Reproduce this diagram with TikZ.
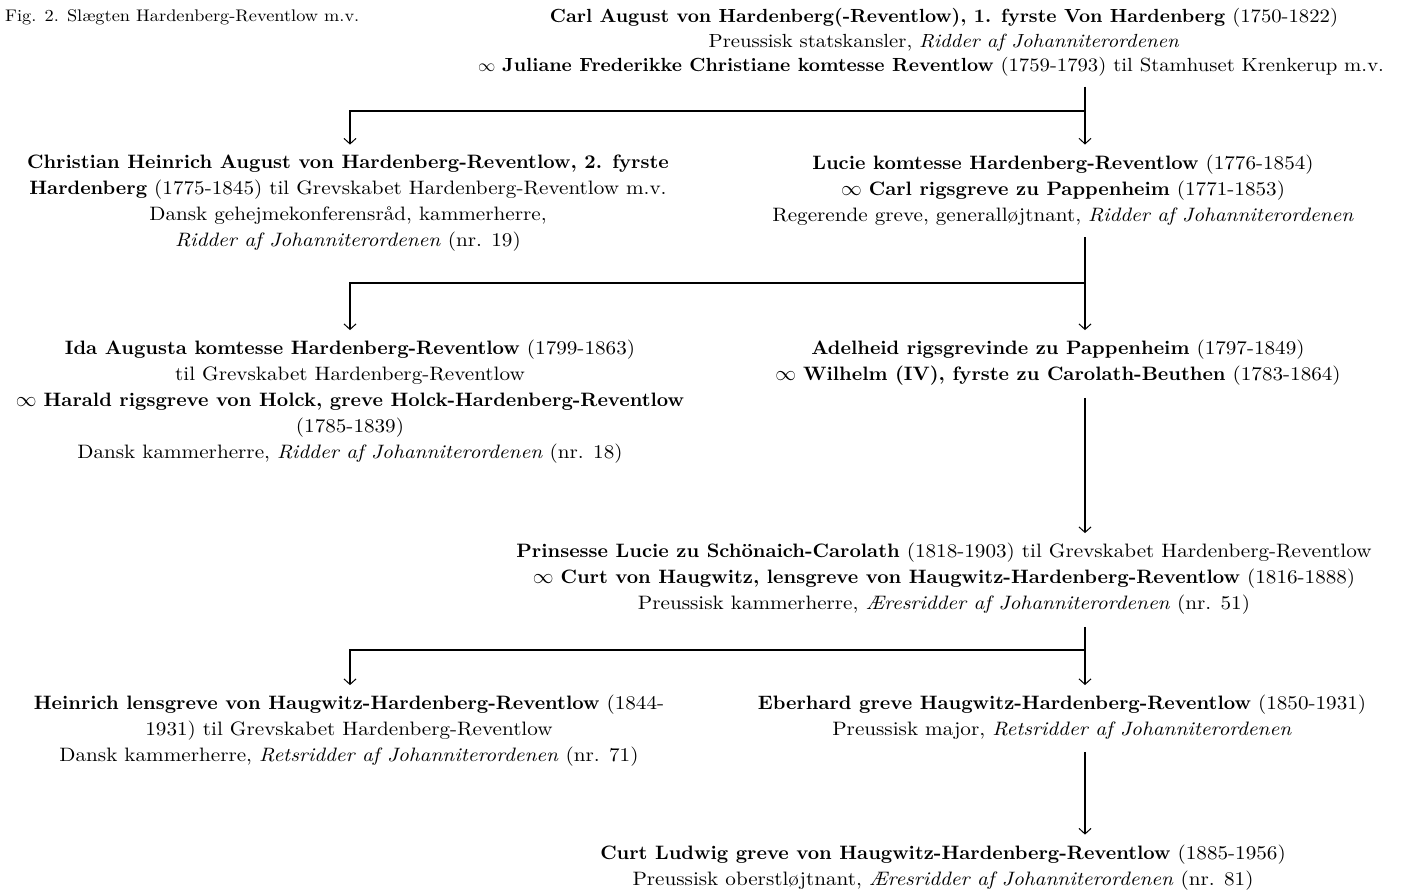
\documentclass[tikz,border=0pt]{standalone}
\usepackage{fontspec}
\setmainfont{lmroman10}[Extension=.otf, UprightFont=*-regular, BoldFont=*-bold, ItalicFont=*-italic, BoldItalicFont=*-bolditalic,
  UprightFeatures={FakeStretch=1.09}, ItalicFeatures={FakeStretch=1.09}, BoldFeatures={FakeStretch=1.02}]
\usetikzlibrary{arrows.meta}
\newcommand\bodyfont{\fontsize{19.4}{26}\selectfont}
\newcommand\topfont{\fontsize{19.0}{24.5}\selectfont}
\newcommand\capfont{\fontsize{16.8}{20}\selectfont}
\tikzset{
  person/.style={align=center, inner sep=0pt, font=\bodyfont},
  link/.style={line width=1.2pt, black},
  arr/.style={link, -{Straight Barb[length=5.5pt,width=12pt,line width=1pt]}}
}
\begin{document}
\begin{tikzpicture}[x=1pt,y=-1pt]
\useasboundingbox (0,0) rectangle (1405,893);
\node[anchor=west, inner sep=0pt, font=\capfont] (cap) at (5,17) {Fig. 2. Slægten Hardenberg-Reventlow m.v.};

\node[person, font=\topfont] (n0) at (938,42.5) {\hspace*{12pt}\textbf{Carl August von Hardenberg(-Reventlow), 1. fyrste Von Hardenberg} (1750-1822)\\
\hspace*{12pt}Preussisk statskansler, \textit{Ridder af Johanniterordenen}\\
$\infty$ \textbf{Juliane Frederikke Christiane komtesse Reventlow} (1759-1793) til Stamhuset Krenkerup m.v.\hspace*{14pt}};

\node[person] (n1) at (348,203) {\textbf{Christian Heinrich August von Hardenberg-Reventlow, 2. fyrste}\\
\textbf{Hardenberg} (1775-1845) til Grevskabet Hardenberg-Reventlow m.v.\\
Dansk gehejmekonferensråd, kammerherre,\\
\textit{Ridder af Johanniterordenen} (nr. 19)};

\node[person] (n2) at (1063,190) {\textbf{Lucie komtesse Hardenberg-Reventlow} (1776-1854)\\
$\infty$ \textbf{Carl rigsgreve zu Pappenheim} (1771-1853)\\
Regerende greve, generalløjtnant, \textit{Ridder af Johanniterordenen}};

\node[person] (n3) at (350,402) {\textbf{Ida Augusta komtesse Hardenberg-Reventlow} (1799-1863)\\
til Grevskabet Hardenberg-Reventlow\\
$\infty$ \textbf{Harald rigsgreve von Holck, greve Holck-Hardenberg-Reventlow}\\
(1785-1839)\\
Dansk kammerherre, \textit{Ridder af Johanniterordenen} (nr. 18)};

\node[person] (n4) at (1058,363) {\textbf{Adelheid rigsgrevinde zu Pappenheim} (1797-1849)\\
$\infty$ \textbf{Wilhelm (IV), fyrste zu Carolath-Beuthen} (1783-1864)};

\node[person] (n5) at (944,579) {\textbf{Prinsesse Lucie zu Schönaich-Carolath} (1818-1903) til Grevskabet Hardenberg-Reventlow\\
$\infty$ \textbf{Curt von Haugwitz, lensgreve von Haugwitz-Hardenberg-Reventlow} (1816-1888)\\
Preussisk kammerherre, \textit{Æresridder af Johanniterordenen} (nr. 51)};

\node[person] (n6) at (349,731) {\textbf{Heinrich lensgreve von Haugwitz-Hardenberg-Reventlow} (1844-\\
1931) til Grevskabet Hardenberg-Reventlow\\
Dansk kammerherre, \textit{Retsridder af Johanniterordenen} (nr. 71)};

\node[person] (n7) at (1062,717.5) {\textbf{Eberhard greve Haugwitz-Hardenberg-Reventlow} (1850-1931)\\
Preussisk major, \textit{Retsridder af Johanniterordenen}};

\node[person] (n8) at (943,867.5) {\textbf{Curt Ludwig greve von Haugwitz-Hardenberg-Reventlow} (1885-1956)\\
Preussisk oberstløjtnant, \textit{Æresridder af Johanniterordenen} (nr. 81)};

% trunk and branch columns
\coordinate (R) at (1085,0);
\coordinate (L) at (350,0);
\coordinate (j1) at (1085,111);
\coordinate (j2) at (1085,283);
\coordinate (j3) at (1085,650);

\draw[arr] (n0.south -| R) ++(0,10) -- ([yshift=10pt]n2.north -| R);
\draw[arr] (j1) -- (j1 -| L) -- ([yshift=10pt]n1.north -| L);

\draw[arr] (n2.south -| R) ++(0,12) -- ([yshift=10pt]n4.north -| R);
\draw[arr] (j2) -- (j2 -| L) -- ([yshift=10pt]n3.north -| L);

\draw[arr] (n4.south -| R) ++(0,12) -- ([yshift=10pt]n5.north -| R);

\draw[arr] (n5.south -| R) ++(0,12) -- ([yshift=10pt]n7.north -| R);
\draw[arr] (j3) -- (j3 -| L) -- ([yshift=10pt]n6.north -| L);

\draw[arr] (n7.south -| R) ++(0,12) -- ([yshift=10pt]n8.north -| R);
\end{tikzpicture}
\end{document}
